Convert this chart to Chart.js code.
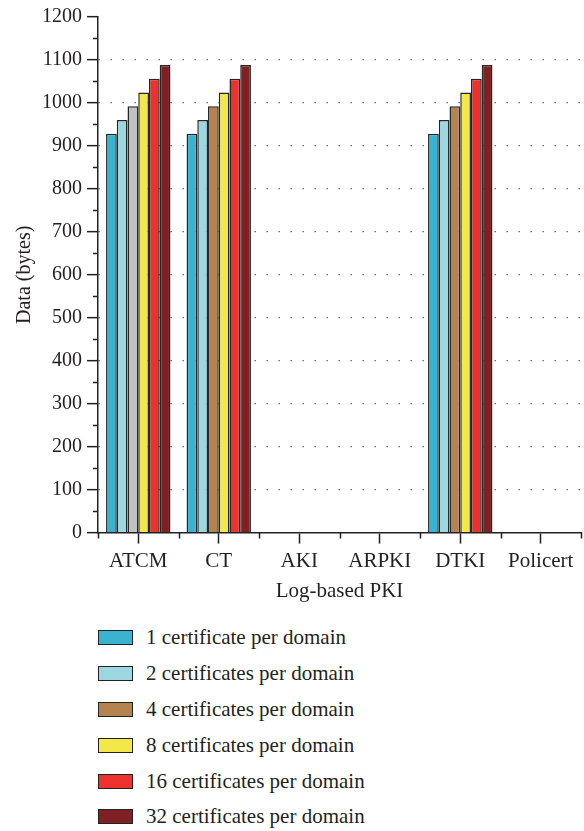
<!DOCTYPE html>
<html>
<head>
<meta charset="utf-8">
<script src="https://cdn.jsdelivr.net/npm/chart.js@4.4.0/dist/chart.umd.min.js"></script>
<style>
    body { margin: 0; background: #fff; }
    #wrap { position: relative; width: 584px; height: 831px; }
    #chartBox { position: absolute; left: 0; top: 0; width: 584px; height: 608px; }
    #legend { position: absolute; left: 98px; top: 620px; font-family: "Liberation Serif", serif; font-size: 21px; color: #231f20; }
    .leg-item { display: flex; align-items: center; height: 35.8px; }
    .leg-box { width: 33px; height: 13px; border: 1.5px solid #222; margin-right: 13px; }
</style>
</head>
<body>
<div id="wrap">
    <div id="chartBox"><canvas id="pkiChart"></canvas></div>
    <div id="legend"></div>
</div>
<script>
// ===== DATA =====
const categories = ["ATCM", "CT", "AKI", "ARPKI", "DTKI", "Policert"];
const seriesNames = [
    "1 certificate per domain",
    "2 certificates per domain",
    "4 certificates per domain",
    "8 certificates per domain",
    "16 certificates per domain",
    "32 certificates per domain",
];
const cert1 = [928, 928, null, null, 928, null];
const cert2 = [960, 960, null, null, 960, null];
const cert4 = [992, 992, null, null, 992, null];
const cert8 = [1024, 1024, null, null, 1024, null];
const cert16 = [1056, 1056, null, null, 1056, null];
const cert32 = [1088, 1088, null, null, 1088, null];
const yTicks = [0, 100, 200, 300, 400, 500, 600, 700, 800, 900, 1000, 1100, 1200];

const seriesValues = [cert1, cert2, cert4, cert8, cert16, cert32];
const seriesColors = ["#3ab3d1", "#9cd8e2", "#b5834f", "#f2e84a", "#ee312c", "#7f2024"];
const FONT = "'Liberation Serif', 'DejaVu Serif', serif";

// ATCM's 4-cert bar is gray in the original figure
function barColors(idx) {
    if (idx === 2) {
        return categories.map((c) => (c === "ATCM" ? "#c2c2c2" : seriesColors[idx]));
    }
    return seriesColors[idx];
}

// ===== MINOR TICKS =====
const minorTicks = {
    id: "minorTicks",
    afterDraw(chart) {
        const { ctx, chartArea, scales } = chart;
        ctx.save();
        ctx.strokeStyle = "#222";
        ctx.lineWidth = 1.5;
        ctx.beginPath();
        for (let v = 50; v < 1200; v += 100) {
            const py = Math.round(scales.y.getPixelForValue(v)) + 0.5;
            ctx.moveTo(chartArea.left - 5, py);
            ctx.lineTo(chartArea.left, py);
        }
        for (let i = 0; i <= categories.length; i++) {
            const px = Math.round(scales.x.getPixelForValue(i - 0.5)) + 0.5;
            ctx.moveTo(px, chartArea.bottom);
            ctx.lineTo(px, chartArea.bottom + 6);
        }
        ctx.stroke();
        ctx.restore();
    },
};

// ===== CHART =====
const ctx = document.getElementById("pkiChart").getContext("2d");
const chart = new Chart(ctx, {
    type: "bar",
    data: {
        labels: categories,
        datasets: seriesValues.map((vals, i) => ({
            label: seriesNames[i],
            data: vals,
            backgroundColor: barColors(i),
            borderColor: "#262626",
            borderWidth: 1.5,
            categoryPercentage: 0.8,
            barPercentage: 1.0,
        })),
    },
    options: {
        responsive: true,
        maintainAspectRatio: false,
        animation: false,
        layout: { padding: { left: 0, right: 3, top: -6, bottom: 0 } },
        plugins: {
            legend: { display: false },
            tooltip: { enabled: false },
        },
        scales: {
            x: {
                offset: true,
                grid: {
                    offset: false,
                    drawOnChartArea: false,
                    drawTicks: true,
                    tickLength: 11,
                    tickColor: "#222",
                    tickWidth: 1.5,
                },
                border: { display: true, color: "#222", width: 1.5 },
                ticks: {
                    color: "#231f20",
                    padding: 5,
                    font: { family: FONT, size: 21 },
                    maxRotation: 0,
                },
                title: {
                    display: true,
                    text: "Log-based PKI",
                    color: "#231f20",
                    font: { family: FONT, size: 21 },
                    padding: { top: 0, bottom: 4 },
                },
            },
            y: {
                min: 0,
                max: 1200,
                ticks: {
                    stepSize: 50,
                    color: "#231f20",
                    padding: 5,
                    font: { family: FONT, size: 20 },
                    callback: (v) => (yTicks.includes(v) ? v : ""),
                },
                grid: {
                    color: (c) => (c.tick && (c.tick.value === 0 || c.tick.value === 1200) ? "rgba(0,0,0,0)" : "#555"),
                    lineWidth: 1.3,
                    tickLength: 11,
                    tickWidth: 1.5,
                    tickColor: (c) => (c.tick && yTicks.includes(c.tick.value) ? "#222" : "rgba(0,0,0,0)"),
                },
                border: { display: true, color: "#222", width: 1.5, dash: [1.3, 10.7] },
                title: {
                    display: true,
                    text: "Data (bytes)",
                    color: "#231f20",
                    font: { family: FONT, size: 20 },
                    padding: { top: 13, bottom: 0 },
                },
            },
        },
    },
    plugins: [minorTicks],
});

// ===== LEGEND =====
const legendEl = document.getElementById("legend");
seriesNames.forEach((name, i) => {
    const item = document.createElement("div");
    item.className = "leg-item";
    const box = document.createElement("span");
    box.className = "leg-box";
    box.style.background = seriesColors[i];
    const txt = document.createElement("span");
    txt.textContent = name;
    item.appendChild(box);
    item.appendChild(txt);
    legendEl.appendChild(item);
});
</script>
</body>
</html>
